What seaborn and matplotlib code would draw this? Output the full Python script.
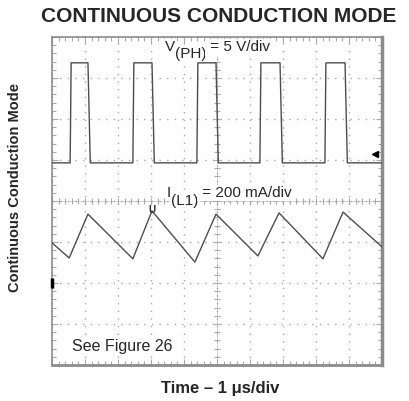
import numpy as np
import pandas as pd
import matplotlib
matplotlib.use("Agg")
import matplotlib.pyplot as plt
from matplotlib.transforms import offset_copy
import seaborn as sns

# --- values read from the scope capture (divisions: x 0..10, y -4..4) ---
pwm_rise = [0.55, 2.45, 4.39, 6.30, 8.27]
pwm_fall = [1.09, 3.03, 4.97, 6.91, 8.88]
pwm_high = 3.37
pwm_low = 0.93

il_x = [0.00, 0.52, 1.09, 2.45, 3.03, 4.33, 4.97, 6.24, 6.88, 8.21, 8.82, 10.00]
il_y = [-1.02, -1.39, -0.32, -1.41, -0.24, -1.49, -0.32, -1.34, -0.29, -1.41, -0.27, -1.12]

trace_color = "#4d4d4d"
grid_color = "#a8a8a8"

sns.set_theme(style="white")
plt.rcParams["font.family"] = ["Liberation Sans", "DejaVu Sans"]

# build the switch-node waveform from the edge times
px, py = [0.0], [pwm_low]
for r, f in zip(pwm_rise, pwm_fall):
    px += [r, r + 0.03, f, f + 0.07]
    py += [pwm_low, pwm_high, pwm_high, pwm_low]
px.append(10.0)
py.append(pwm_low)
vph = pd.DataFrame({"t": px, "v": py})
il = pd.DataFrame({"t": il_x, "i": il_y})

fig = plt.figure(figsize=(4.09, 4.01), dpi=100)
ax = fig.add_axes([52 / 409, 1 - 365 / 401, 330 / 409, 328 / 401])

# graticule
ax.set_xlim(0, 10)
ax.set_ylim(-4, 4)
ax.set_xticks(np.arange(0, 11))
ax.set_yticks(np.arange(-4, 5))
ax.set_xticks(np.arange(0, 10.01, 0.2), minor=True)
ax.set_yticks(np.arange(-4, 4.01, 0.2), minor=True)
ax.set_xticklabels([])
ax.set_yticklabels([])
ax.tick_params(which="both", direction="in", top=True, right=True,
               bottom=True, left=True, color=grid_color)
ax.tick_params(which="major", length=4, width=0.8)
ax.tick_params(which="minor", length=3, width=0.8)
ax.set_axisbelow(True)
ax.grid(True, which="major", color=grid_color, linestyle=(0, (1, 4.5)), linewidth=1)
for s in ax.spines.values():
    s.set_color("#8c8c8c")
    s.set_linewidth(1.2)
ax.spines["right"].set_linewidth(2.5)
ax.spines["bottom"].set_linewidth(2.0)

mx = np.arange(0, 10.01, 0.2)
my = np.arange(-4, 4.01, 0.2)
ax.plot(mx, np.zeros_like(mx), ls="", marker="|", ms=4, mew=0.8, color=grid_color, zorder=0.6)
ax.plot(np.full_like(my, 5.0), my, ls="", marker="_", ms=4, mew=0.8, color=grid_color, zorder=0.6)
ax.axhline(0, color=grid_color, lw=0.6, alpha=0.6, zorder=0.6)
ax.axvline(5, color=grid_color, lw=0.6, alpha=0.6, zorder=0.6)

# traces
sns.lineplot(data=vph, x="t", y="v", ax=ax, estimator=None, sort=False,
             color=trace_color, linewidth=1.0, zorder=3)
sns.lineplot(data=il, x="t", y="i", ax=ax, estimator=None, sort=False,
             color=trace_color, linewidth=1.0, zorder=3)
ax.set_xlabel("")
ax.set_ylabel("")

# scope markers
ax.plot([9.79], [1.15], marker="<", ms=5, color="black", ls="", zorder=4)
ax.plot([0.0], [-2.0], marker="|", ms=7, mew=2.5, color="black", ls="", clip_on=False, zorder=4)
ax.text(3.03, -0.22, "U", fontsize=7, fontweight="bold", ha="center", va="center", zorder=4)

# annotations with full-size, lowered subscripts
box = dict(facecolor="white", edgecolor="none", pad=1.0)


def sub_label(x, y, main, sub, rest, size=11, drop=7):
    kw = dict(fontsize=size, ha="left", va="baseline", bbox=box, zorder=1)
    t1 = ax.text(x, y, main, **kw)
    fig.canvas.draw()
    w1 = t1.get_window_extent().width
    t2 = ax.text(x, y, sub, transform=offset_copy(ax.transData, fig, x=w1, y=-drop, units="dots"), **kw)
    fig.canvas.draw()
    w2 = t2.get_window_extent().width
    ax.text(x, y, rest, transform=offset_copy(ax.transData, fig, x=w1 + w2, units="dots"), **kw)


sub_label(3.42, 3.65, "V", "(PH)", " = 5 V/div", drop=7)
sub_label(3.48, 0.10, "I", "(L1)", " = 200 mA/div", drop=8)
ax.text(0.61, -3.56, "See Figure 26", fontsize=11.5, ha="left", va="center", bbox=box, zorder=1)

fig.text(0.535, 1 - 17 / 401, "CONTINUOUS CONDUCTION MODE", fontsize=15,
         fontweight="bold", ha="center", va="center")
fig.text(220 / 409, 1 - 388 / 401, "Time \u2013 1 \u03bcs/div", fontsize=12,
         fontweight="bold", ha="center", va="center")
fig.text(15 / 409, 1 - 188 / 401, "Continuous Conduction Mode", fontsize=10.5,
         fontweight="bold", ha="center", va="center", rotation=90)

fig.savefig("out.png", dpi=100)
